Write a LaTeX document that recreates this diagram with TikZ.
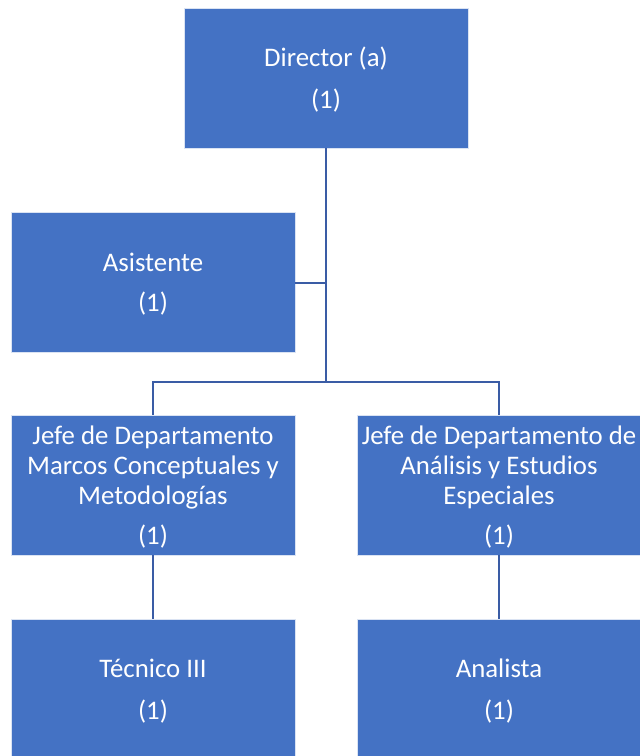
\documentclass[tikz,border=0pt]{standalone}
\usepackage{fontspec}
\setmainfont{Carlito}
\definecolor{boxblue}{RGB}{68,114,196}
\definecolor{lineblue}{RGB}{58,92,165}
\begin{document}
\begin{tikzpicture}[x=1pt,y=-1pt,
  orgbox/.style={rectangle,fill=boxblue,draw=white!80!boxblue,line width=0.8pt,
    text=white,align=center,inner sep=0pt,minimum width=284pt,minimum height=140pt,
    font=\fontsize{26.8}{30}\selectfont},
  lbl/.style={text=white,align=center,inner sep=0pt,font=\fontsize{26.8}{30}\selectfont},
  conn/.style={draw=lineblue,line width=2.8pt}]
\useasboundingbox (0,0) rectangle (640,756);
\node[orgbox] (dir) at (326,78) {};
\node[orgbox] (asis) at (153,282) {};
\node[orgbox] (jefe1) at (153,485) {};
\node[orgbox] (jefe2) at (499,485) {};
\node[orgbox,minimum height=142pt] (tec) at (153,690) {};
\node[orgbox,minimum height=142pt] (ana) at (499,690) {};
\node[lbl] (dirt) at (326,80) {Director (a)\\[12pt](1)};
\node[lbl] (asist) at (153,284) {Asistente\\[10pt](1)};
\node[lbl] (jefe1t) at (153,487) {Jefe de Departamento\\Marcos Conceptuales y\\Metodologías\\[10pt](1)};
\node[lbl] (jefe2t) at (499,487) {Jefe de Departamento de\\Análisis y Estudios\\Especiales\\[10pt](1)};
\node[lbl] (tect) at (153,691) {Técnico III\\[12pt](1)};
\node[lbl] (anat) at (499,691) {Analista\\[12pt](1)};
\coordinate (bus) at (326,382);
\coordinate (busl) at (153,382);
\coordinate (busr) at (499,382);
\coordinate (asj) at (326,283);
\draw[conn] (dir.south) -- (bus);
\draw[conn] (asis.east |- asj) -- (asj);
\draw[conn] (jefe1.north) -- (busl) -- (busr) -- (jefe2.north);
\draw[conn] (jefe1.south) -- (tec.north);
\draw[conn] (jefe2.south) -- (ana.north);
\end{tikzpicture}
\end{document}
